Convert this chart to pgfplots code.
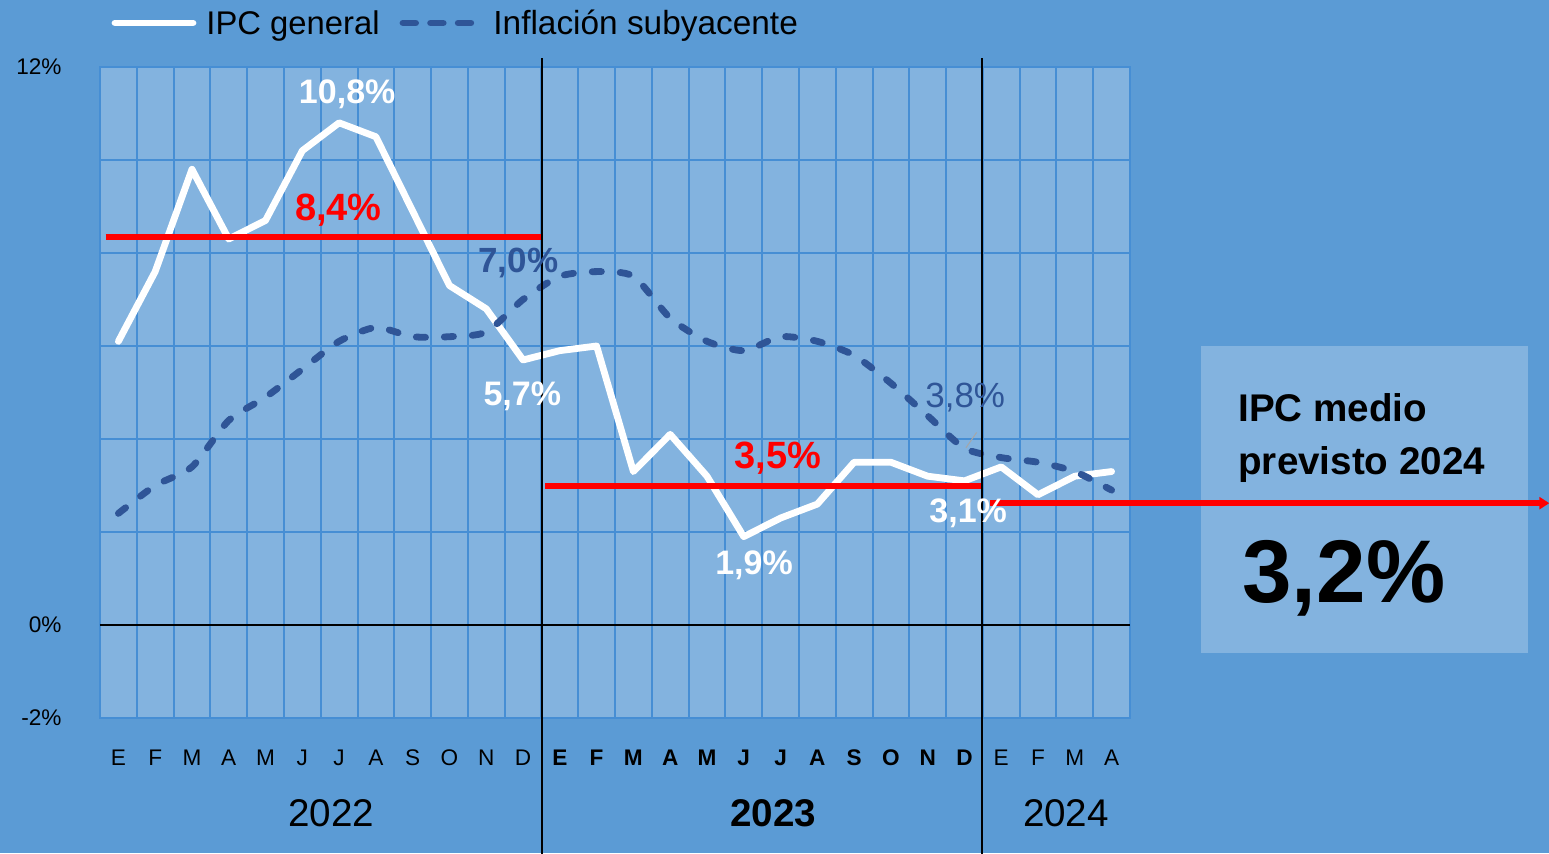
\documentclass[border=0pt]{standalone}
\usepackage{pgfplots}
\pgfplotsset{compat=1.18}
\usepackage{fontspec}
\setmainfont{Liberation Sans}
\usetikzlibrary{arrows.meta}
\definecolor{bgcol}{RGB}{91,155,213}
\definecolor{plotcol}{RGB}{131,179,223}
\definecolor{gridcol}{RGB}{70,142,212}
\definecolor{corecol}{RGB}{47,85,151}
\newcommand\fs[1]{\fontsize{#1}{#1}\selectfont}
\begin{document}
\begin{tikzpicture}
\useasboundingbox (0,0) rectangle (774.5pt,426.5pt);
\fill[bgcol] (0,0) rectangle (774.5pt,426.5pt);
% right box
\fill[plotcol] (600.5pt,100pt) rectangle (764pt,253.5pt);
\node[anchor=base west, inner sep=0pt, font=\fs{19.3pt}\bfseries] at (619pt,215.5pt) {IPC medio};
\node[anchor=base west, inner sep=0pt, font=\fs{19.3pt}\bfseries] at (619pt,189.5pt) {previsto 2024};
\node[anchor=base west, inner sep=0pt, font=\fs{44.5pt}\bfseries] at (621pt,125.5pt) {3,2\%};
% legend
\draw[white, line width=3.4pt, line cap=round] (57.5pt,415pt) -- (96.5pt,415pt);
\node[anchor=base west, inner sep=0pt, font=\fs{16.4pt}] at (103pt,409pt) {IPC general};
\draw[corecol, line width=3.4pt, line cap=round, dash pattern=on 6.3pt off 7.5pt] (201.5pt,415pt) -- (236pt,415pt);
\node[anchor=base west, inner sep=0pt, font=\fs{16.7pt}] at (246.5pt,409pt) {Inflación subyacente};
\begin{axis}[
  at={(50pt,67.5pt)}, anchor=south west, scale only axis,
  width=515pt, height=325.5pt,
  xmin=-0.5, xmax=27.5, ymin=-2, ymax=12,
  clip=false,
  axis background/.style={fill=plotcol},
  axis line style={draw=gridcol, line width=1pt},
  xtick={0,...,27},
  xticklabels={E,F,M,A,M,J,J,A,S,O,N,D,\textbf{E},\textbf{F},\textbf{M},\textbf{A},\textbf{M},\textbf{J},\textbf{J},\textbf{A},\textbf{S},\textbf{O},\textbf{N},\textbf{D},E,F,M,A},
  minor xtick={-0.5,0.5,...,27.5},
  xminorgrids=true,
  minor grid style={draw=gridcol, line width=1pt},
  ytick={-2,0,...,12},
  yticklabels={-2\%,0\%,{},{},{},{},{},12\%},
  ymajorgrids=true,
  major grid style={draw=gridcol, line width=1pt},
  major tick length=0pt, minor tick length=0pt,
  tick style={draw=none},
  xticklabel style={anchor=base, yshift=-23.85pt, inner sep=0pt, font=\fs{11.3pt}},
  yticklabel style={anchor=east, xshift=-19pt, inner sep=0pt, font=\fs{11.3pt}},
]
\draw[black, line width=1.4pt] (axis cs:-0.5,0) -- (axis cs:27.5,0);
% IPC general
\addplot[white, line width=3.4pt, line join=round, line cap=round] coordinates {
(0,6.1)(1,7.6)(2,9.8)(3,8.3)(4,8.7)(5,10.2)(6,10.8)(7,10.5)(8,8.9)(9,7.3)(10,6.8)(11,5.7)
(12,5.9)(13,6.0)(14,3.3)(15,4.1)(16,3.2)(17,1.9)(18,2.3)(19,2.6)(20,3.5)(21,3.5)(22,3.2)(23,3.1)
(24,3.4)(25,2.8)(26,3.2)(27,3.3)};
% Inflacion subyacente
\addplot[corecol, line width=3.4pt, smooth, tension=0.4, line cap=round, dash pattern=on 4.6pt off 9.4pt] coordinates {
(0,2.4)(1,3.0)(2,3.4)(3,4.4)(4,4.9)(5,5.5)(6,6.1)(7,6.4)(8,6.2)(9,6.2)(10,6.3)(11,7.0)
(12,7.5)(13,7.6)(14,7.5)(15,6.6)(16,6.1)(17,5.9)(18,6.2)(19,6.1)(20,5.8)(21,5.2)(22,4.5)(23,3.8)
(24,3.6)(25,3.5)(26,3.3)(27,2.9)};
% averages
\addplot[red, line width=3pt] coordinates {(-0.35,8.35) (11.5,8.35)};
\addplot[red, line width=3pt] coordinates {(11.6,3.0) (23.45,3.0)};
\addplot[red, line width=3pt, -{Triangle[length=5pt,width=6pt]}] coordinates {(23.7,2.62) (38.9,2.62)};
% separators
\draw[black, line width=1pt] (axis cs:11.52,12.19) -- (axis cs:11.52,-4.92);
\draw[black, line width=1pt] (axis cs:23.48,12.19) -- (axis cs:23.48,-4.92);
\draw[gray!70, line width=0.5pt] (axis cs:23.04,3.81) -- (axis cs:23.33,4.14);
% data labels
\node[white, font=\fs{17pt}\bfseries] at (axis cs:6.22,11.42) {10,8\%};
\node[red, font=\fs{19pt}\bfseries] at (axis cs:5.98,8.92) {8,4\%};
\node[corecol, font=\fs{17.5pt}\bfseries] at (axis cs:10.87,7.78) {7,0\%};
\node[white, font=\fs{17pt}\bfseries] at (axis cs:10.98,4.92) {5,7\%};
\node[red, font=\fs{19pt}\bfseries] at (axis cs:17.93,3.59) {3,5\%};
\node[white, font=\fs{17pt}\bfseries] at (axis cs:17.28,1.29) {1,9\%};
\node[corecol, font=\fs{17.5pt}] at (axis cs:23.02,4.90) {3,8\%};
\node[white, font=\fs{17pt}\bfseries] at (axis cs:23.10,2.41) {3,1\%};
% years
\node[anchor=base, inner sep=0pt, font=\fs{19.3pt}] at (axis cs:5.79,-4.34) {2022};
\node[anchor=base, inner sep=0pt, font=\fs{19.3pt}\bfseries] at (axis cs:17.80,-4.34) {2023};
\node[anchor=base, inner sep=0pt, font=\fs{19.3pt}] at (axis cs:25.76,-4.34) {2024};
\end{axis}
\end{tikzpicture}
\end{document}
